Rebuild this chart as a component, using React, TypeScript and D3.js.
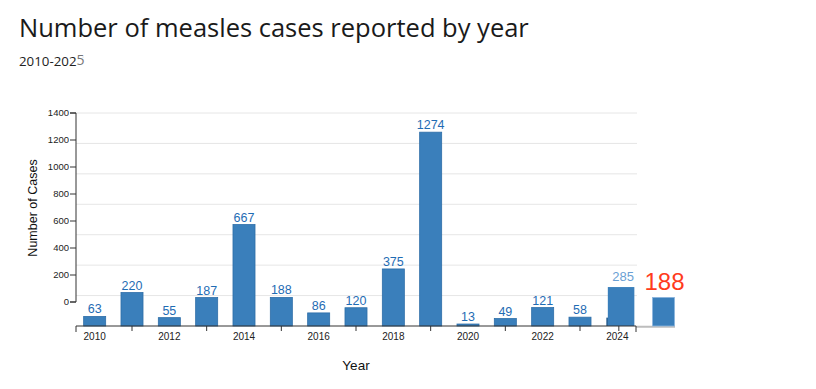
import React from "react";
import * as d3 from "d3";

const years: number[] = [2010, 2011, 2012, 2013, 2014, 2015, 2016, 2017, 2018, 2019, 2020, 2021, 2022, 2023, 2024];
const labelValues: number[] = [63, 220, 55, 187, 667, 188, 86, 120, 375, 1274, 13, 49, 121, 58, 285];
const barValues: number[] = [63, 220, 55, 187, 667, 188, 86, 120, 375, 1274, 13, 49, 121, 58, 256];
const currentYear = 2025;
const currentValue = 188;
const yTicks: number[] = [0, 200, 400, 600, 800, 1000, 1200, 1400];
const gridValues: number[] = [200, 400, 600, 800, 1000, 1200, 1400];
const tickYears: number[] = [2011, 2013, 2015, 2017, 2019, 2021, 2023, 2024];
const labelYears: number[] = [2010, 2012, 2014, 2016, 2018, 2020, 2022, 2024];

const TITLE = "Number of measles cases reported by year";
const SUBTITLE_A = "2010-202";
const SUBTITLE_B = "5";

export default function App() {
  const x0 = 76, x1 = 636;
  const baseY = 326;
  const x = d3.scaleBand<number>().domain(years).range([x0, x1]).paddingInner(0.41).paddingOuter(0.205);
  const yAxis = d3.scaleLinear().domain([0, 1400]).range([302, 113]);
  const yBar = d3.scaleLinear().domain([0, 1400]).range([baseY, 113]);
  const bw = x.bandwidth();
  const lastYear = years[years.length - 1];
  const axisFont = "'Liberation Sans', Arial, Helvetica, sans-serif";
  const curX = x1 + 16.5;

  return (
    <div style={{ position: "absolute", left: 0, top: 0, width: 816, height: 389, background: "#fff" }}>
      <svg width={816} height={389} style={{ display: "block" }}>
        <text x={19} y={37} fontFamily="'Open Sans', 'Noto Sans', sans-serif" fontSize={25.5} fill="#1a1a1a">{TITLE}</text>
        <text x={19} y={65.5} fontFamily="'Open Sans', 'Noto Sans', sans-serif" fontSize={13.3} fill="#222">
          {SUBTITLE_A}
          <tspan fill="#777" fontSize={14} dy={-0.5}>{SUBTITLE_B}</tspan>
        </text>
        <circle cx={83} cy={57} r={0.5} fill="#bbb" />

        {/* gridlines */}
        {gridValues.map((v) => (
          <line key={"g" + v} x1={x0} x2={x1 + 1} y1={yBar(v)} y2={yBar(v)} stroke="#e6e6e6" strokeWidth={1} />
        ))}

        {/* y axis */}
        <path d={`M${x0 - 6},${yAxis(0)}H${x0}V${yAxis(1400)}H${x0 - 6}`} fill="none" stroke="#333" strokeWidth={1} />
        {yTicks.map((v) => (
          <g key={"yt" + v} transform={`translate(${x0},${yAxis(v)})`}>
            <line x1={-6} x2={0} stroke="#333" />
            <text x={-7} dy="0.32em" textAnchor="end" fontFamily={axisFont} fontSize={9.5} fill="#222">{v}</text>
          </g>
        ))}
        <text transform={`translate(37,208) rotate(-90)`} textAnchor="middle" fontFamily={axisFont} fontSize={12.5} fill="#111">Number of Cases</text>

        {/* bars */}
        {years.map((yr, i) => {
          const isLast = yr === lastYear;
          const top = yBar(barValues[i]);
          const bx = (x(yr) as number) + (isLast ? 1.5 : 0);
          const w = isLast ? bw + 4.5 : bw;
          return (
            <g key={"b" + yr}>
              {isLast && (
                <rect x={x(yr) as number} y={yBar(55)} width={bw} height={baseY - yBar(55)} fill="#2a5f8f" />
              )}
              <rect x={bx} y={top} width={w} height={baseY - top} fill="#3a7fbb" stroke={isLast ? "none" : "#2e6ea8"} strokeWidth={0.8} />
              <text
                x={bx + w / 2 + (isLast ? 2 : 0)}
                y={top - (isLast ? 6 : 3)}
                textAnchor="middle"
                fontFamily={axisFont}
                fontSize={isLast ? 13 : 12.5}
                fill={isLast ? "#6a9fd4" : "#1f6cb4"}
              >
                {labelValues[i]}
              </text>
            </g>
          );
        })}

        {/* current year bar ({currentYear}) */}
        <line x1={x1} x2={curX + bw + 0.5} y1={baseY + 0.7} y2={baseY + 0.7} stroke="#bdbdbd" strokeWidth={2} />
        <rect x={curX} y={yBar(currentValue)} width={bw} height={baseY - yBar(currentValue)} fill="#3a7fbb" stroke="#8db6de" strokeWidth={0.8} />
        <text x={curX + bw / 2 + 1} y={yBar(currentValue) - 7} textAnchor="middle" fontFamily={axisFont} fontSize={24} fill="#ff3b1c">{currentValue}</text>

        {/* x axis */}
        <path d={`M${x0},${baseY + 6}V${baseY}H${x1}V${baseY + 6}`} fill="none" stroke="#333" strokeWidth={1} />
        {tickYears.map((yr) => {
          const cx = (x(yr) as number) + bw / 2 + (yr === lastYear ? 1.5 : 0);
          return <line key={"xt" + yr} x1={cx} x2={cx} y1={baseY} y2={baseY + 5} stroke="#333" />;
        })}
        {labelYears.map((yr) => (
          <text key={"xl" + yr} x={(x(yr) as number) + bw / 2} y={340} textAnchor="middle" fontFamily={axisFont} fontSize={10} fill="#222">{yr}</text>
        ))}
        <text x={356} y={370} textAnchor="middle" fontFamily={axisFont} fontSize={13.5} fill="#111">Year</text>
      </svg>
    </div>
  );
}
